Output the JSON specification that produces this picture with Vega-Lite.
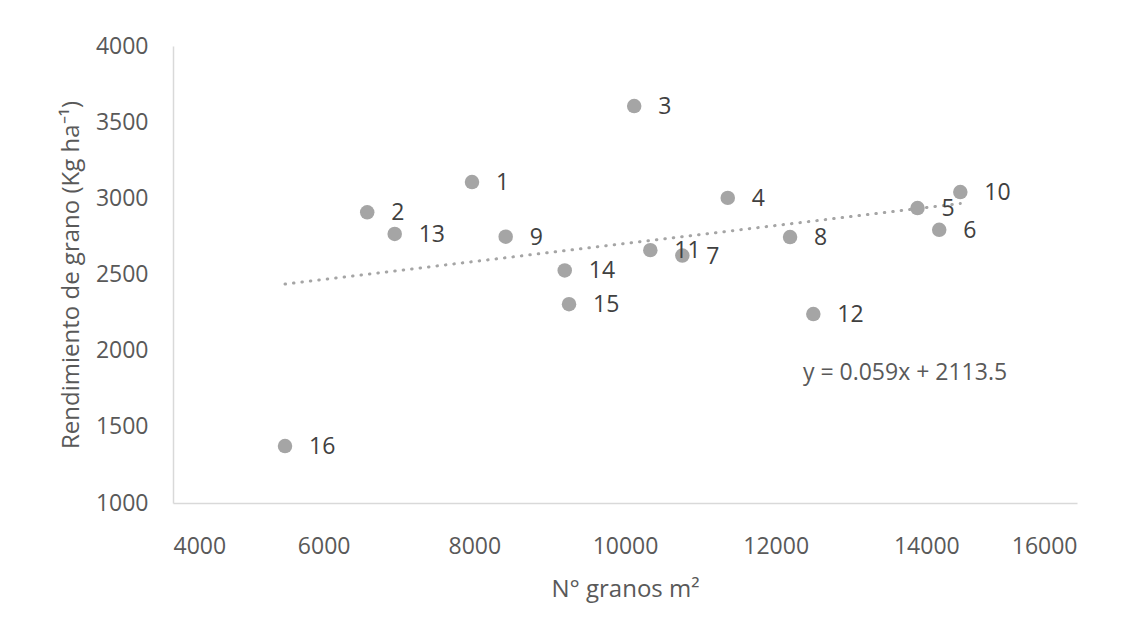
{
  "$schema": "https://vega.github.io/schema/vega-lite/v6.json",
  "width": 904,
  "height": 457,
  "autosize": "none",
  "padding": {"left": 173, "top": 46, "right": 54, "bottom": 131},
  "background": "white",
  "config": {
    "view": {"stroke": null},
    "axis": {
      "domainColor": "#D9D9D9",
      "domainWidth": 1.5,
      "ticks": false,
      "grid": false,
      "labelColor": "#595959",
      "titleColor": "#595959",
      "labelFont": "Open Sans",
      "titleFont": "Open Sans",
      "labelFontSize": 23,
      "titleFontSize": 24,
      "titleFontWeight": "normal",
      "format": "d"
    }
  },
  "datasets": {
    "pts": [
      {"granos": 7969, "rend": 3107, "id": "1"},
      {"granos": 6578, "rend": 2908, "id": "2"},
      {"granos": 10122, "rend": 3606, "id": "3"},
      {"granos": 11364, "rend": 3003, "id": "4"},
      {"granos": 13883, "rend": 2936, "id": "5"},
      {"granos": 14171, "rend": 2793, "id": "6"},
      {"granos": 10761, "rend": 2624, "id": "7"},
      {"granos": 12191, "rend": 2746, "id": "8"},
      {"granos": 8416, "rend": 2748, "id": "9"},
      {"granos": 14451, "rend": 3041, "id": "10"},
      {"granos": 10336, "rend": 2660, "id": "11"},
      {"granos": 12500, "rend": 2240, "id": "12"},
      {"granos": 6943, "rend": 2766, "id": "13"},
      {"granos": 9200, "rend": 2527, "id": "14"},
      {"granos": 9257, "rend": 2305, "id": "15"},
      {"granos": 5487, "rend": 1374, "id": "16"}
    ],
    "trend": [
      {"granos": 5487, "rend": 2437.2},
      {"granos": 14451, "rend": 2966.1}
    ],
    "eq": [
      {"granos": 13717, "rend": 1853, "txt": "y = 0.059x + 2113.5"}
    ]
  },
  "layer": [
    {
      "data": {"name": "trend"},
      "mark": {"type": "line", "color": "#A5A5A5", "strokeWidth": 3, "strokeDash": [0.5, 8], "strokeCap": "round"},
      "encoding": {
        "x": {"field": "granos", "type": "quantitative", "scale": {"domain": [4000, 16000], "nice": false, "zero": false},
          "axis": {"values": [4000, 6000, 8000, 10000, 12000, 14000, 16000], "title": "N° granos m²", "labelPadding": 32, "titlePadding": 19}},
        "y": {"field": "rend", "type": "quantitative", "scale": {"domain": [1000, 4000], "nice": false, "zero": false},
          "axis": {"values": [1000, 1500, 2000, 2500, 3000, 3500, 4000], "title": "Rendimiento de grano (Kg ha⁻¹)", "labelPadding": 25, "titlePadding": 12}}
      }
    },
    {
      "data": {"name": "pts"},
      "mark": {"type": "circle", "color": "#A5A5A5", "opacity": 1, "size": 210},
      "encoding": {
        "x": {"field": "granos", "type": "quantitative"},
        "y": {"field": "rend", "type": "quantitative"}
      }
    },
    {
      "data": {"name": "pts"},
      "mark": {"type": "text", "align": "left", "baseline": "middle", "dx": 24, "dy": 1, "font": "Open Sans", "fontSize": 23, "color": "#404040"},
      "encoding": {
        "x": {"field": "granos", "type": "quantitative"},
        "y": {"field": "rend", "type": "quantitative"},
        "text": {"field": "id"}
      }
    },
    {
      "data": {"name": "eq"},
      "mark": {"type": "text", "align": "center", "baseline": "middle", "font": "Open Sans", "fontSize": 23, "color": "#595959"},
      "encoding": {
        "x": {"field": "granos", "type": "quantitative"},
        "y": {"field": "rend", "type": "quantitative"},
        "text": {"field": "txt"}
      }
    }
  ]
}
